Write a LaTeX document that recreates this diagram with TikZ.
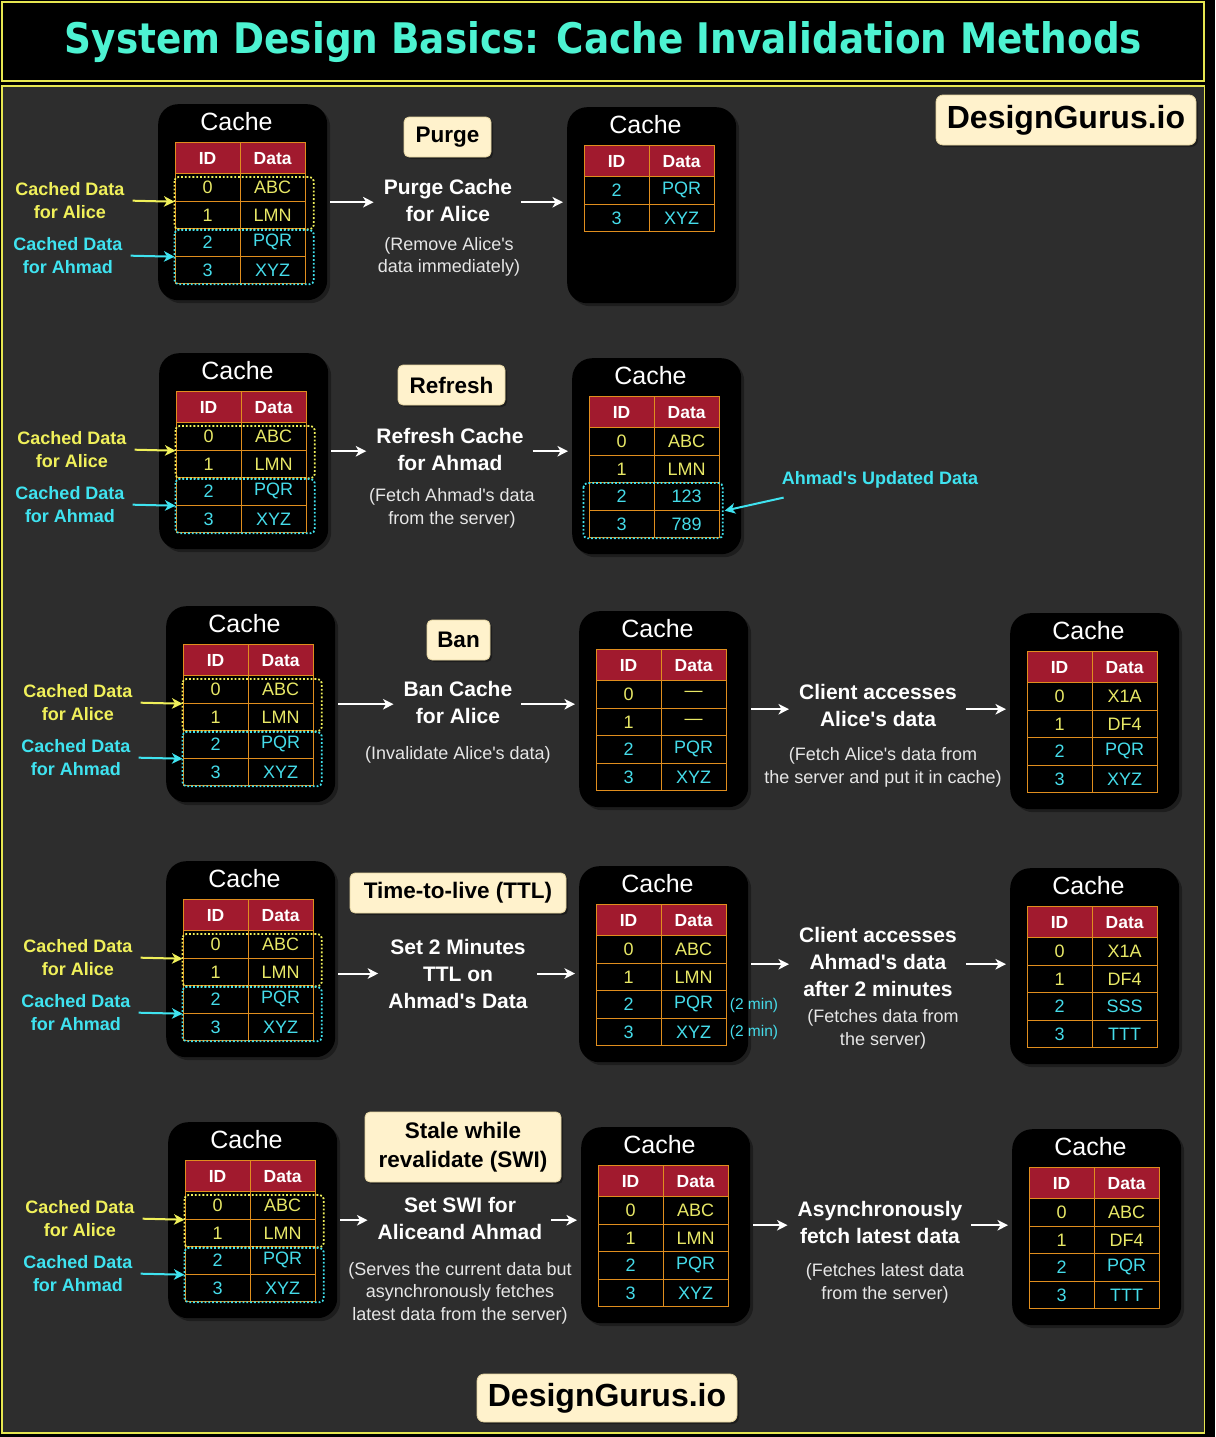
\documentclass[tikz,border=0pt]{standalone}
\usepackage{graphicx}
\usepackage{fontspec}
\setmainfont{Liberation Sans}[Ligatures=TeXOff]
\newfontfamily\headfont{DejaVu Sans}
\usetikzlibrary{calc,arrows.meta,shadows}

\definecolor{panelbg}{HTML}{2D2D2D}
\definecolor{frameyel}{HTML}{E6E650}
\definecolor{titlecyan}{HTML}{4DF3D2}
\definecolor{aliceyel}{HTML}{F0F05A}
\definecolor{ahmadcyan}{HTML}{3FE3F0}
\definecolor{cellyel}{HTML}{E8E866}
\definecolor{cellcyan}{HTML}{45DCEA}
\definecolor{headred}{HTML}{A11A2E}
\definecolor{gridorange}{HTML}{E08E1E}
\definecolor{cream}{HTML}{FFF2CC}
\definecolor{creamline}{HTML}{E3D3A0}
\definecolor{notegray}{HTML}{E6E6E6}

\newcommand\fsz[2]{\fontsize{#1}{#2}\selectfont}

\tikzset{
  cachebg/.style={fill=black, rounded corners=20pt, minimum width=169pt,
    minimum height=196pt, inner sep=0pt,
    drop shadow={shadow xshift=3pt, shadow yshift=-3pt, fill=black, opacity=0.35}},
  cachetitle/.style={text=white, font=\fsz{25}{30}, inner sep=0pt},
  hcell/.style={fill=headred, draw=gridorange, line width=1.2pt, minimum width=65pt,
    minimum height=31pt, inner sep=0pt, text=white, font=\bfseries\fsz{17.5}{20},
    anchor=north west},
  dcell/.style={fill=black, draw=gridorange, line width=1.2pt, minimum width=65pt,
    minimum height=27.5pt, inner sep=0pt, font=\fsz{18}{20}, anchor=north west},
  alicegrp/.style={draw=aliceyel, dotted, line width=1.8pt, rounded corners=4pt},
  ahmadgrp/.style={draw=ahmadcyan, dotted, line width=1.8pt, rounded corners=4pt},
  alicelbl/.style={text=aliceyel, font=\bfseries\fsz{18}{23}, align=center, inner sep=0pt},
  ahmadlbl/.style={text=ahmadcyan, font=\bfseries\fsz{18}{23}, align=center, inner sep=0pt},
  tip/.style={-{Stealth[length=10.5pt,width=10.5pt,inset=3pt]}},
  alicearr/.style={draw=aliceyel, line width=2pt, tip, shorten <=8pt},
  ahmadarr/.style={draw=ahmadcyan, line width=2pt, tip, shorten <=8pt},
  warrow/.style={draw=white, line width=2pt, tip},
  toText/.style={warrow, shorten <=3pt, shorten >=10pt},
  toBox/.style={warrow, shorten <=9pt, shorten >=4pt},
  desc/.style={text=white, font=\bfseries\fsz{21}{27}, align=center, inner sep=0pt},
  note/.style={text=notegray, font=\fsz{18}{22.5}, align=center, inner sep=0pt},
  method/.style={fill=cream, draw=creamline, line width=0.8pt, rounded corners=5pt,
    text=black, font=\bfseries\fsz{22.5}{29}, inner sep=0pt, align=center,
    drop shadow={shadow xshift=2pt, shadow yshift=-2pt, fill=black, opacity=0.35}},
  brand/.style={method, font=\bfseries\fsz{32}{36}, rounded corners=7pt},
}

% a cache: black card, "Cache" caption and the ID/Data header
\newcommand\cachebox[3]{%
  \node[cachebg, anchor=north west] (#1) at (#2,#3) {};
  \coordinate (#1-t) at ($(#1.north west)+(16.5,38)$);
  \node[cachetitle] (#1-title) at ($(#1-t)+(62,-20)$) {Cache};
  \node[hcell] (#1-hid) at (#1-t) {ID};
  \node[hcell] (#1-hda) at ($(#1-t)+(65,0)$) {Data};
}
% one table row: cache, row index, text colour, id, data
\newcommand\cacherow[5]{%
  \node[dcell, text=#3] (#1-id#2) at ($(#1-t)+(0,{31+27.5*#2})$) {#4};
  \node[dcell, text=#3] (#1-da#2) at ($(#1-t)+(65,{31+27.5*#2})$) {#5};
}
% the four starting rows with the two owner groups
\newcommand\startrows[1]{%
  \cacherow{#1}{0}{cellyel}{0}{ABC}
  \cacherow{#1}{1}{cellyel}{1}{LMN}
  \cacherow{#1}{2}{cellcyan}{2}{PQR}
  \cacherow{#1}{3}{cellcyan}{3}{XYZ}
  \draw[alicegrp] ($(#1-id0.north west)+(0,4)$) rectangle ($(#1-da1.south east)+(8,0)$);
  \draw[ahmadgrp] ($(#1-id2.north west)+(0,2)$) rectangle ($(#1-da3.south east)+(8,0)$);
}
% owner labels left of a cache: cache, x, y of the Alice label
\newcommand\owners[3]{%
  \node[alicelbl] (#1-al) at (#2,#3) {Cached Data\\for Alice};
  \node[ahmadlbl] (#1-ah) at (#2-2,#3+55) {Cached Data\\for Ahmad};
  \draw[alicearr] (#1-al.east) -- (#1-id0.south west);
  \draw[ahmadarr] (#1-ah.east) -- (#1-id2.south west);
}

\begin{document}
\begin{tikzpicture}[x=1pt,y=-1pt]
\useasboundingbox (0,0) rectangle (1215,1437);
\fill[black] (0,0) rectangle (1215,1437);

% title bar and main panel
\draw[frameyel, line width=1.8pt, fill=black] (2,2) rectangle (1204,81);
\draw[frameyel, line width=1.8pt, fill=panelbg] (2,86) rectangle (1204.5,1433);
\node[anchor=base, text=titlecyan, inner sep=0pt] (title) at (603.5,54)
  {\resizebox{1077pt}{32pt}{\headfont\bfseries System Design Basics: Cache Invalidation Methods}};

\node[brand, minimum width=260pt, minimum height=50pt] (brandtop) at (1066,120) {DesignGurus.io};
\node[brand, minimum width=260pt, minimum height=48pt] (brandbot) at (607,1398) {DesignGurus.io};

% ---------- Purge ----------
\cachebox{A1}{158}{104}
\startrows{A1}
\owners{A1}{70}{200.5}
\node[method, minimum width=87pt, minimum height=40pt] (mA) at (447.5,137) {Purge};
\node[desc] (tA) at (448,200.5) {Purge Cache\\for Alice};
\node[note] (nA) at (449,257) {(Remove Alice's\\data immediately)};
\cachebox{A2}{567}{107}
\cacherow{A2}{0}{cellcyan}{2}{PQR}
\cacherow{A2}{1}{cellcyan}{3}{XYZ}
\draw[toText] (A1.east) -- (A1.east -| tA.west);
\draw[toBox] (tA.east |- A1.east) -- (A2.west |- A1.east);

% ---------- Refresh ----------
\cachebox{B1}{159}{353}
\startrows{B1}
\owners{B1}{72}{449.5}
\node[method, minimum width=107pt, minimum height=40pt] (mB) at (451.5,385) {Refresh};
\node[desc] (tB) at (450,449.5) {Refresh Cache\\for Ahmad};
\node[note] (nB) at (452,508.5) {(Fetch Ahmad's data\\from the server)};
\cachebox{B2}{572}{358}
\cacherow{B2}{0}{cellyel}{0}{ABC}
\cacherow{B2}{1}{cellyel}{1}{LMN}
\cacherow{B2}{2}{cellcyan}{2}{123}
\cacherow{B2}{3}{cellcyan}{3}{789}
\draw[ahmadgrp] ($(B2-id2.north west)+(-5,1)$) rectangle ($(B2-da3.south east)+(3,0)$);
\node[ahmadlbl] (uB) at (880,480) {Ahmad's Updated Data};
\draw[ahmadarr, shorten <=0pt] ($(uB.south west)+(2,9)$) -- ($(B2-da2.south east)+(5,0)$);
\draw[toText] (B1.east) -- (B1.east -| tB.west);
\draw[toBox] (tB.east |- B1.east) -- (B2.west |- B1.east);

% ---------- Ban ----------
\cachebox{C1}{166}{606}
\startrows{C1}
\owners{C1}{78}{702.5}
\node[method, minimum width=63pt, minimum height=40pt] (mC) at (458.5,640) {Ban};
\node[desc] (tC) at (458,702.5) {Ban Cache\\for Alice};
\node[note] (nC) at (458,755) {(Invalidate Alice's data)};
\cachebox{C2}{579}{611}
\cacherow{C2}{0}{cellyel}{0}{—}
\cacherow{C2}{1}{cellyel}{1}{—}
\cacherow{C2}{2}{cellcyan}{2}{PQR}
\cacherow{C2}{3}{cellcyan}{3}{XYZ}
\node[desc] (tC2) at (878,705.5) {Client accesses\\Alice's data};
\node[note] (nC2) at (883,767.5) {(Fetch Alice's data from\\the server and put it in cache)};
\cachebox{C3}{1010}{613}
\cacherow{C3}{0}{cellyel}{0}{X1A}
\cacherow{C3}{1}{cellyel}{1}{DF4}
\cacherow{C3}{2}{cellcyan}{2}{PQR}
\cacherow{C3}{3}{cellcyan}{3}{XYZ}
\draw[toText] (C1.east) -- (C1.east -| tC.west);
\draw[toBox] (tC.east |- C1.east) -- (C2.west |- C1.east);
\draw[toText] (C2.east) -- (C2.east -| tC2.west);
\draw[toBox] (tC2.east |- C2.east) -- (C3.west |- C2.east);

% ---------- Time-to-live ----------
\cachebox{D1}{166}{861}
\startrows{D1}
\owners{D1}{78}{957.5}
\node[method, minimum width=216pt, minimum height=40pt] (mD) at (458,893) {Time-to-live (TTL)};
\node[desc] (tD) at (458,973.5) {Set 2 Minutes\\TTL on\\Ahmad's Data};
\cachebox{D2}{579}{866}
\cacherow{D2}{0}{cellyel}{0}{ABC}
\cacherow{D2}{1}{cellyel}{1}{LMN}
\cacherow{D2}{2}{cellcyan}{2}{PQR}
\cacherow{D2}{3}{cellcyan}{3}{XYZ}
\node[text=cellcyan, font=\fsz{15.5}{18}, inner sep=0pt, anchor=west] (ttl2) at ($(D2-da2.east)+(3,1)$) {(2 min)};
\node[text=cellcyan, font=\fsz{15.5}{18}, inner sep=0pt, anchor=west] (ttl3) at ($(D2-da3.east)+(3,1)$) {(2 min)};
\node[desc] (tD2) at (878,961.5) {Client accesses\\Ahmad's data\\after 2 minutes};
\node[note] (nD2) at (883,1029.5) {(Fetches data from\\the server)};
\cachebox{D3}{1010}{868}
\cacherow{D3}{0}{cellyel}{0}{X1A}
\cacherow{D3}{1}{cellyel}{1}{DF4}
\cacherow{D3}{2}{cellcyan}{2}{SSS}
\cacherow{D3}{3}{cellcyan}{3}{TTT}
\draw[toText] (D1.east |- tD) -- (tD.west);
\draw[toBox] (tD.east) -- (D2.west |- tD);
\draw[toText] (D2.east) -- (D2.east -| tD2.west);
\draw[toBox] (tD2.east |- D2.east) -- (D3.west |- D2.east);

% ---------- Stale while revalidate ----------
\cachebox{E1}{168}{1122}
\startrows{E1}
\owners{E1}{80}{1218.5}
\node[method, minimum width=196pt, minimum height=70pt] (mE) at (463,1147) {Stale while\\revalidate (SWI)};
\node[desc] (tE) at (460,1218.5) {Set SWI for\\Aliceand Ahmad};
\node[note] (nE) at (460,1293) {(Serves the current data but\\asynchronously fetches\\latest data from the server)};
\cachebox{E2}{581}{1127}
\cacherow{E2}{0}{cellyel}{0}{ABC}
\cacherow{E2}{1}{cellyel}{1}{LMN}
\cacherow{E2}{2}{cellcyan}{2}{PQR}
\cacherow{E2}{3}{cellcyan}{3}{XYZ}
\node[desc] (tE2) at (880,1222) {Asynchronously\\fetch latest data};
\node[note] (nE2) at (885,1283.5) {(Fetches latest data\\from the server)};
\cachebox{E3}{1012}{1129}
\cacherow{E3}{0}{cellyel}{0}{ABC}
\cacherow{E3}{1}{cellyel}{1}{DF4}
\cacherow{E3}{2}{cellcyan}{2}{PQR}
\cacherow{E3}{3}{cellcyan}{3}{TTT}
\draw[toText] (E1.east) -- (E1.east -| tE.west);
\draw[toBox] (tE.east |- E1.east) -- (E2.west |- E1.east);
\draw[toText] (E2.east) -- (E2.east -| tE2.west);
\draw[toBox] (tE2.east |- E2.east) -- (E3.west |- E2.east);
\end{tikzpicture}
\end{document}
